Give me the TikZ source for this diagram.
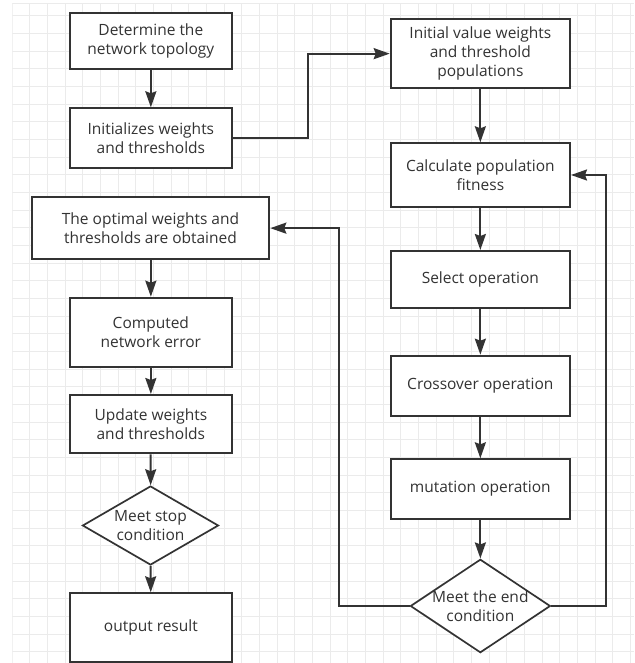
\documentclass[tikz,border=0pt]{standalone}
\usepackage{fontspec}
\setmainfont{Open Sans}
\usetikzlibrary{shapes.geometric,arrows.meta}
\definecolor{ln}{HTML}{333333}
\definecolor{gridc}{HTML}{EBEBEB}
\begin{document}
\begin{tikzpicture}[x=1pt,y=-1pt,
  box/.style={draw=ln, line width=2pt, fill=white, text=ln, align=center, inner sep=2pt,
    font=\fontsize{15.5}{19}\selectfont},
  dia/.style={draw=ln, line width=1.7pt, fill=white, shape=diamond, inner sep=0pt},
  txt/.style={text=ln, align=center, inner sep=0pt, font=\fontsize{15.5}{19}\selectfont},
  arr/.style={draw=ln, line width=2pt, line join=miter, -{Stealth[length=16pt,width=11pt,inset=2pt]}}]
\useasboundingbox (0,0) rectangle (634,663);
\fill[white] (0,0) rectangle (634,663);
% grid
\begin{scope}
\clip (12.3,3.3) rectangle (634,663);
\foreach \i in {0,...,35} \draw[gridc, line width=1pt] ({12.3+\i*17.66},0) -- ({12.3+\i*17.66},663);
\foreach \j in {0,...,36} \draw[gridc, line width=1pt] (0,{16+\j*17.66}) -- (634,{16+\j*17.66});
\draw[gridc, line width=1pt] (12.3,3.8) -- (634,3.8);
\end{scope}
% left column
\node[box, minimum width=161.7pt, minimum height=56pt] (b1) at (150.85,41.3) {Determine the\\network topology};
\node[box, minimum width=161.7pt, minimum height=60pt] (b2) at (150.85,138.3) {Initializes weights\\and thresholds};
\node[box, minimum width=237.6pt, minimum height=61.7pt] (opt) at (150.5,228.15) {The optimal weights and\\thresholds are obtained};
\node[box, minimum width=161.7pt, minimum height=69pt] (comp) at (150.85,332.2) {Computed\\network error};
\node[box, minimum width=161.7pt, minimum height=58.3pt] (upd) at (150.85,424.15) {Update weights\\and thresholds};
\node[dia, minimum width=136pt, minimum height=79pt] (stop) at (150.5,525.5) {};
\node[txt] (stopt) at (stop.center) {Meet stop\\condition};
\node[box, minimum width=161.7pt, minimum height=69pt] (out) at (150.85,627.8) {output result};
% right column
\node[box, minimum width=179.3pt, minimum height=69.3pt] (b3) at (480.35,53.65) {Initial value weights\\and threshold\\populations};
\node[box, minimum width=179.3pt, minimum height=63.4pt] (b4) at (480.35,175) {Calculate population\\fitness};
\node[box, minimum width=179.3pt, minimum height=56.7pt] (b5) at (480.35,279.35) {Select operation};
\node[box, minimum width=179.3pt, minimum height=60pt] (b6) at (480.35,385.7) {Crossover operation};
\node[box, minimum width=179.3pt, minimum height=59.7pt] (b7) at (480.35,489.15) {mutation operation};
\node[dia, minimum width=140pt, minimum height=93.4pt] (end) at (480.35,606) {};
\node[txt] (endt) at (end.center) {Meet the end\\condition};
% connectors
\draw[arr] (b1) -- (b2);
\draw[arr] (b2.east) -- ++(75.6,0) |- (b3.west);
\draw[arr] (b3) -- (b4);
\draw[arr] (b4) -- (b5);
\draw[arr] (b5) -- (b6);
\draw[arr] (b6) -- (b7);
\draw[arr] (b7) -- (end);
\draw[arr] (end.east) -- ++(54.65,0) |- (b4.east);
\draw[arr] (end.west) -- ++(-70.35,0) |- (opt.east);
\draw[arr] (opt.south -| b1.south) -- (comp);
\draw[arr] (comp) -- (upd);
\draw[arr] (upd) -- (stop);
\draw[arr] (stop) -- (out);
\end{tikzpicture}
\end{document}
